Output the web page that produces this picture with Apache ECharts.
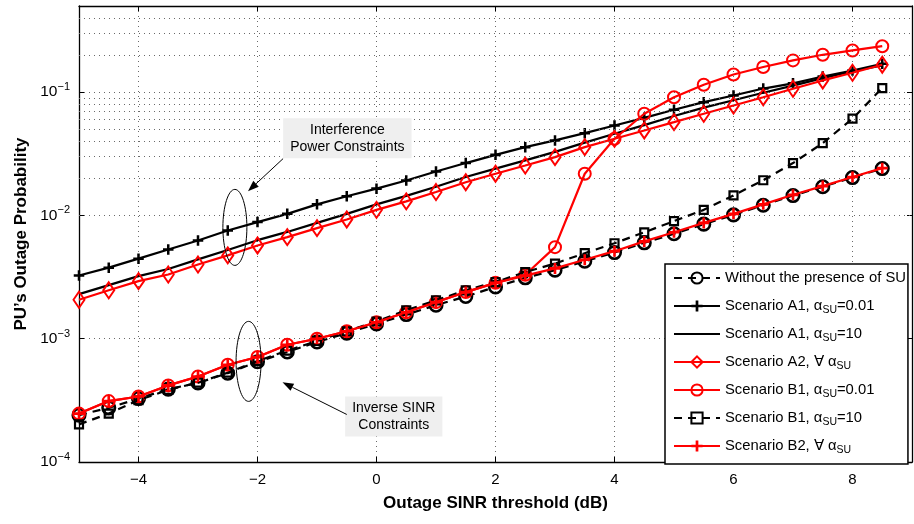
<!DOCTYPE html>
<html><head><meta charset="utf-8">
<script src="https://cdn.jsdelivr.net/npm/echarts@6/dist/echarts.min.js"></script>
<style>html,body{margin:0;padding:0;background:#fff}#c{width:914px;height:524px}</style>
</head><body><div id="c"></div>
<script>
const xValues = [-5,-4.5,-4,-3.5,-3,-2.5,-2,-1.5,-1,-0.5,0,0.5,1,1.5,2,2.5,3,3.5,4,4.5,5,5.5,6,6.5,7,7.5,8,8.5];
const withoutSU = [2.4e-4,2.75e-4,3.27e-4,3.9e-4,4.38e-4,5.25e-4,6.5e-4,7.8e-4,9.4e-4,1.11e-3,1.32e-3,1.57e-3,1.87e-3,2.2e-3,2.63e-3,3.12e-3,3.6e-3,4.25e-3,5.0e-3,6.0e-3,7.1e-3,8.5e-3,0.0101,0.0121,0.0145,0.0171,0.0203,0.024];
const a1Alpha001 = [3.26e-3,3.77e-3,4.46e-3,5.3e-3,6.27e-3,7.55e-3,8.83e-3,0.0103,0.0123,0.0143,0.0165,0.0192,0.0227,0.0266,0.031,0.0358,0.0406,0.0465,0.0537,0.0619,0.072,0.083,0.094,0.107,0.118,0.134,0.150,0.170];
const a1Alpha10 = [2.3e-3,2.72e-3,3.22e-3,3.68e-3,4.4e-3,5.25e-3,6.3e-3,7.35e-3,8.7e-3,0.0103,0.0123,0.0144,0.0171,0.0205,0.024,0.028,0.0328,0.039,0.046,0.054,0.064,0.075,0.086,0.099,0.113,0.13,0.148,0.165];
const a2All = [2.07e-3,2.47e-3,2.93e-3,3.32e-3,4.0e-3,4.74e-3,5.71e-3,6.67e-3,7.89e-3,9.28e-3,0.0111,0.013,0.0155,0.0186,0.0218,0.0254,0.0297,0.0358,0.0419,0.0489,0.0571,0.0668,0.078,0.091,0.1066,0.1245,0.1437,0.167];
const b1Alpha001 = [2.47e-4,3.12e-4,3.4e-4,4.18e-4,4.94e-4,6.15e-4,7.1e-4,8.94e-4,1.0e-3,1.15e-3,1.36e-3,1.64e-3,1.98e-3,2.39e-3,2.84e-3,3.3e-3,5.53e-3,0.0218,0.0419,0.0668,0.091,0.115,0.139,0.16,0.181,0.201,0.218,0.236];
const b1Alpha10 = [2.02e-4,2.47e-4,3.17e-4,3.85e-4,4.4e-4,5.3e-4,6.6e-4,8.0e-4,9.6e-4,1.15e-3,1.38e-3,1.7e-3,2.05e-3,2.47e-3,2.88e-3,3.47e-3,4.07e-3,4.94e-3,5.95e-3,7.3e-3,9.0e-3,0.0111,0.01455,0.0193,0.0266,0.0386,0.061,0.108];
const b2All = [2.47e-4,3.12e-4,3.4e-4,4.18e-4,4.94e-4,6.15e-4,7.1e-4,8.94e-4,1.0e-3,1.15e-3,1.36e-3,1.64e-3,1.98e-3,2.39e-3,2.84e-3,3.25e-3,3.72e-3,4.37e-3,5.13e-3,6.16e-3,7.3e-3,8.7e-3,0.0103,0.0123,0.0147,0.0173,0.0205,0.0242];
const yMinorGrid = [2e-4,3e-4,4e-4,5e-4,6e-4,7e-4,8e-4,9e-4,2e-3,3e-3,4e-3,5e-3,6e-3,7e-3,8e-3,9e-3,0.02,0.03,0.04,0.05,0.06,0.07,0.08,0.09,0.2,0.3,0.4];
const seriesNames = ['Without the presence of SU','Scenario A1, α_SU=0.01','Scenario A1, α_SU=10','Scenario A2, ∀ α_SU','Scenario B1, α_SU=0.01','Scenario B1, α_SU=10','Scenario B2, ∀ α_SU'];
const legendRich = {
  'Without the presence of SU':'Without the presence of SU',
  'Scenario A1, α_SU=0.01':'Scenario A1, α{sub|SU}=0.01',
  'Scenario A1, α_SU=10':'Scenario A1, α{sub|SU}=10',
  'Scenario A2, ∀ α_SU':'Scenario A2, ∀ α{sub|SU}',
  'Scenario B1, α_SU=0.01':'Scenario B1, α{sub|SU}=0.01',
  'Scenario B1, α_SU=10':'Scenario B1, α{sub|SU}=10',
  'Scenario B2, ∀ α_SU':'Scenario B2, ∀ α{sub|SU}'
};
// annotations in data coordinates
const ann1Text = ['Interference','Power Constraints'];
const ann1Center = [-0.49, 0.0422];
const ann1Arrow = [[-1.57, 0.0289],[-2.16, 0.0157]];
const ann1Ellipse = [-2.38, 0.008];
const ann2Text = ['Inverse SINR','Constraints'];
const ann2Center = [0.29, 2.34e-4];
const ann2Arrow = [[-0.50, 2.43e-4],[-1.58, 4.43e-4]];
const ann2Ellipse = [-2.15, 6.55e-4];

const FONT = '"Liberation Sans", Arial, Helvetica, sans-serif';
const RED = '#ff0000';
const PLUS = 'path://M0,3.8h10v2.4h-10z M3.8,0h2.4v10h-2.4z';
const pair = ys => xValues.map((x,i)=>[x, ys[i]]);
const dotted = {type:[1,4], color:'#6a6a6a', width:1};

const chart = echarts.init(document.getElementById('c'), null, {renderer:'canvas'});

function mk(name, ys, o){
  return Object.assign({name, type:'line', data:pair(ys), animation:false, silent:true}, o);
}
const series = [
  mk(seriesNames[0], withoutSU, {symbol:'circle', symbolSize:12.5, z:2,
    itemStyle:{color:'rgba(0,0,0,0)', borderColor:'#000', borderWidth:2.6},
    lineStyle:{color:'#000', width:2.2, type:[8,6]},
    markLine:{silent:true, symbol:['none','none'], label:{show:false}, animation:false,
      lineStyle:dotted, data: yMinorGrid.map(v=>({yAxis:v}))}}),
  mk(seriesNames[1], a1Alpha001, {symbol:PLUS, symbolSize:10.5, z:3,
    itemStyle:{color:'#000'}, lineStyle:{color:'#000', width:2.2}}),
  mk(seriesNames[2], a1Alpha10, {symbol:'none', z:3,
    itemStyle:{color:'#000'}, lineStyle:{color:'#000', width:2.2}}),
  mk(seriesNames[3], a2All, {symbol:'diamond', symbolSize:[11,16], z:4,
    itemStyle:{color:'rgba(255,0,0,0)', borderColor:RED, borderWidth:2}, lineStyle:{color:RED, width:2.2}}),
  mk(seriesNames[4], b1Alpha001, {symbol:'circle', symbolSize:12, z:4,
    itemStyle:{color:'rgba(255,0,0,0)', borderColor:RED, borderWidth:2}, lineStyle:{color:RED, width:2.2}}),
  mk(seriesNames[5], b1Alpha10, {symbol:'rect', symbolSize:8, z:5,
    itemStyle:{color:'rgba(0,0,0,0)', borderColor:'#000', borderWidth:2.2}, lineStyle:{color:'#000', width:2.2, type:[8,6]}}),
  mk(seriesNames[6], b2All, {symbol:PLUS, symbolSize:11, z:6,
    itemStyle:{color:RED}, lineStyle:{color:RED, width:2.2}})
];

const axisLine = {show:true, onZero:false, lineStyle:{color:'#000', width:1.3}};
const xLabelFmt = v => (Math.abs(v % 2) < 1e-9) ? String(v).replace('-', '\u2212') : '';
const yLabelFmt = v => { const l = Math.log10(v); const e = Math.round(l); if (Math.abs(l-e) > 1e-6) return ''; return '{b|10}{sup|' + (e<0?'\u2212':'') + Math.abs(e) + '}'; };

const legendData = seriesNames.map((n,i) => i === 2
  ? {name:n, itemStyle:{color:'rgba(0,0,0,0)', borderColor:'rgba(0,0,0,0)', borderWidth:0}}
  : {name:n});

chart.setOption({
  backgroundColor:'#fff',
  animation:false,
  grid:{left:79, right:2, top:6, bottom:62, containLabel:false},
  legend:{
    data: legendData, orient:'vertical', left:665, top:264, selectedMode:false,
    itemWidth:46, itemHeight:14, itemGap:8, padding:[4,2,8,8],
    borderColor:'#000', borderWidth:1.5, backgroundColor:'#fff', z:20,
    formatter: n => legendRich[n],
    textStyle:{fontFamily:FONT, fontSize:14.8, color:'#000', lineHeight:20,
      rich:{sub:{fontFamily:FONT, fontSize:10.5, color:'#000', padding:[8,0,0,0]}}}
  },
  xAxis:[
    {type:'value', min:-5, max:9, splitNumber:7, position:'bottom',
     axisLine, axisTick:{show:true, inside:true, length:5, lineStyle:{color:'#000'}},
     axisLabel:{formatter:xLabelFmt, fontFamily:FONT, fontSize:15, color:'#000', margin:10, showMinLabel:false, showMaxLabel:false},
     splitLine:{show:true, lineStyle:dotted},
     name:'Outage SINR threshold (dB)', nameLocation:'middle', nameGap:33,
     nameTextStyle:{fontFamily:FONT, fontSize:17, fontWeight:'bold', color:'#000'}},
    {type:'value', min:-5, max:9, splitNumber:7, position:'top',
     axisLine, axisTick:{show:true, inside:true, length:5, lineStyle:{color:'#000'}},
     axisLabel:{show:false}, splitLine:{show:false}}
  ],
  yAxis:[
    {type:'log', logBase:10, min:1e-4, max:0.5, position:'left',
     axisLine, axisTick:{show:true, inside:true, length:5, lineStyle:{color:'#000'}},
     axisLabel:{formatter:yLabelFmt, showMaxLabel:false, margin:9, color:'#000',
       rich:{b:{fontFamily:FONT, fontSize:15.5, color:'#000'}, sup:{fontFamily:FONT, fontSize:11, color:'#000', padding:[0,0,10,0]}}},
     splitLine:{show:true, lineStyle:dotted},
     name:'PU\u2019s Outage Probability', nameLocation:'middle', nameGap:47, nameRotate:90,
     nameTextStyle:{fontFamily:FONT, fontSize:17, fontWeight:'bold', color:'#000'}},
    {type:'log', logBase:10, min:1e-4, max:0.5, position:'right',
     axisLine, axisTick:{show:true, inside:true, length:5, lineStyle:{color:'#000'}},
     axisLabel:{show:false}, splitLine:{show:false}}
  ],
  series
});

function px(p){ return chart.convertToPixel({xAxisIndex:0, yAxisIndex:0}, p); }
function arrow(a, b){
  const p0 = px(a), p1 = px(b);
  const dx = p1[0]-p0[0], dy = p1[1]-p0[1], L = Math.hypot(dx,dy);
  const ux = dx/L, uy = dy/L, nx = -uy, ny = ux, hl = 11, hw = 4;
  const base = [p1[0]-ux*hl, p1[1]-uy*hl];
  return [
    {type:'line', shape:{x1:p0[0], y1:p0[1], x2:base[0], y2:base[1]}, style:{stroke:'#000', lineWidth:1}, z:30},
    {type:'polygon', shape:{points:[p1, [base[0]+nx*hw, base[1]+ny*hw], [base[0]-nx*hw, base[1]-ny*hw]]}, style:{fill:'#000'}, z:30}
  ];
}
function label(c, lines){
  const p = px(c);
  return {type:'text', x:p[0], y:p[1], z:30, style:{text:lines.join('\n'), align:'center', verticalAlign:'middle',
    font:'14px ' + FONT, fill:'#000', lineHeight:17, backgroundColor:'#efefef', padding:[3,7,3,7]}};
}
function ell(c, rx, ry){
  const p = px(c);
  return {type:'ellipse', shape:{cx:p[0], cy:p[1], rx, ry}, style:{fill:null, stroke:'#000', lineWidth:1}, z:30};
}
chart.setOption({graphic:[
  label(ann1Center, ann1Text), ...arrow(ann1Arrow[0], ann1Arrow[1]), ell(ann1Ellipse, 12, 38),
  label(ann2Center, ann2Text), ...arrow(ann2Arrow[0], ann2Arrow[1]), ell(ann2Ellipse, 12.5, 40)
]});
</script>
</body></html>
